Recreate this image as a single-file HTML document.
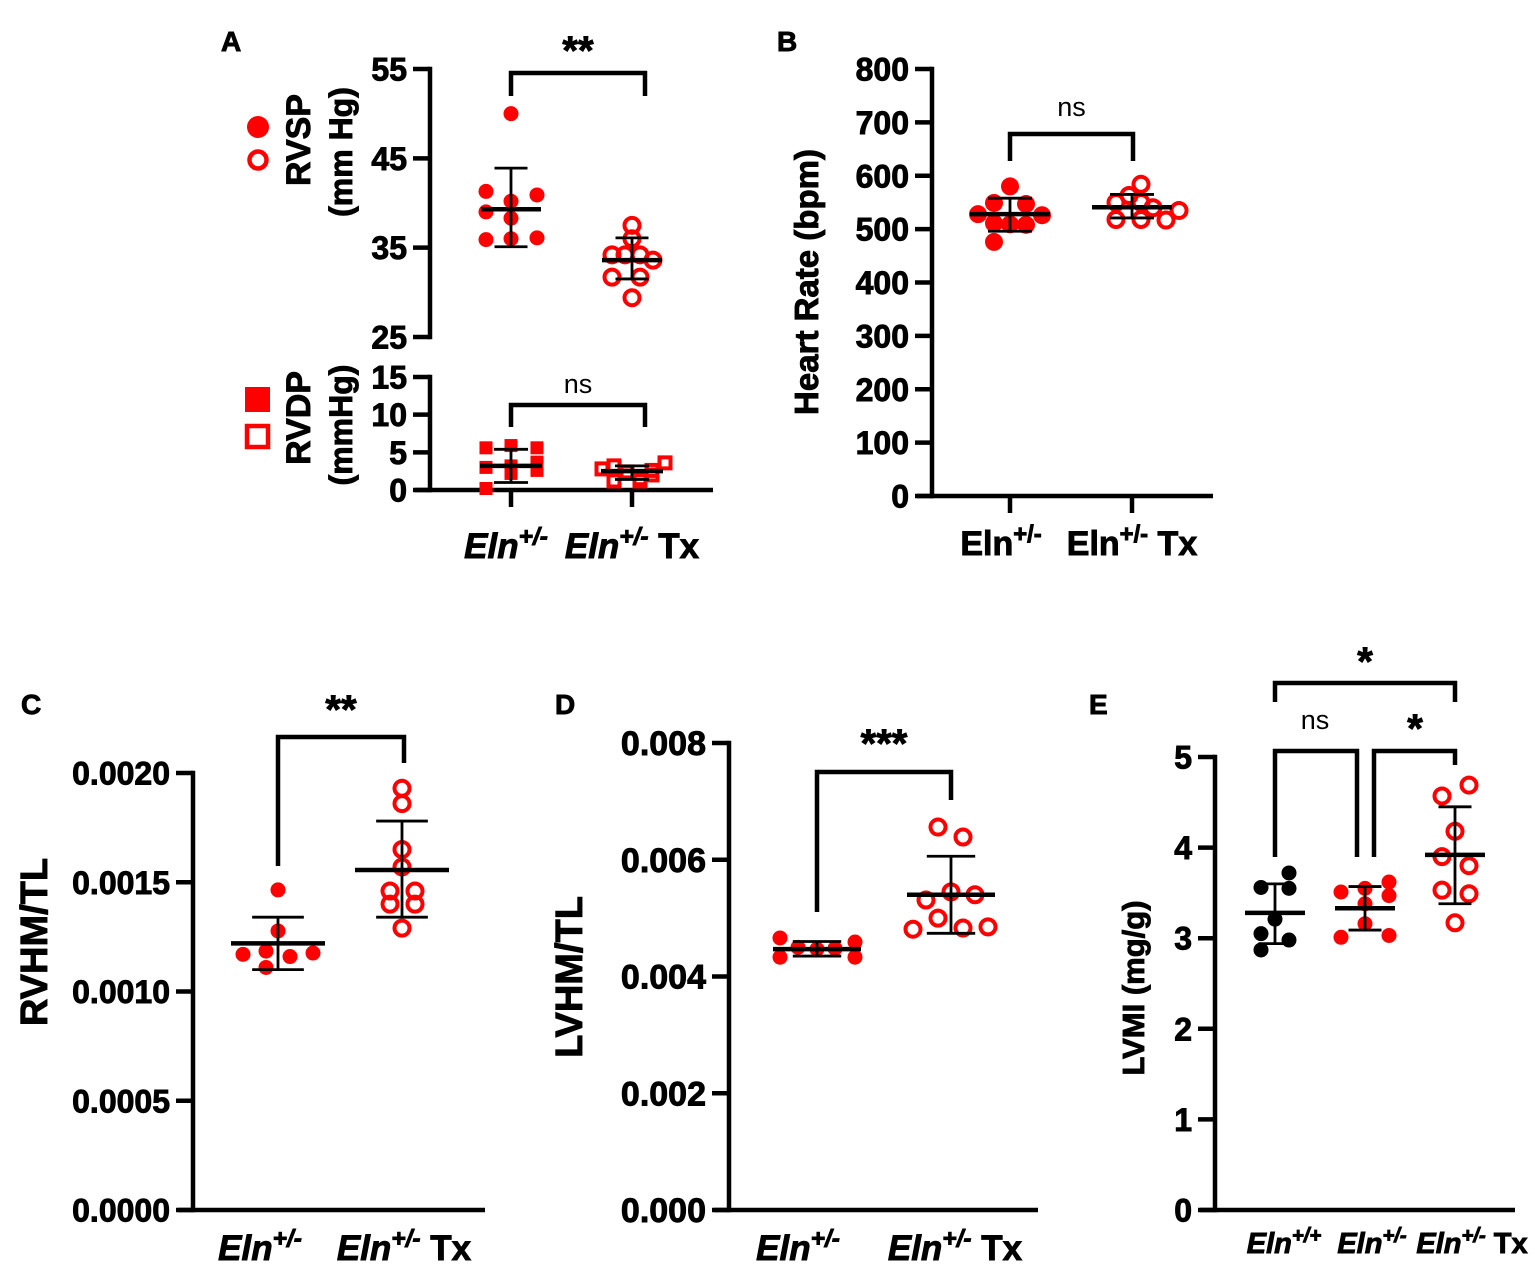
<!DOCTYPE html>
<html><head><meta charset="utf-8"><style>
html,body{margin:0;padding:0;background:#fff;}
svg{display:block;font-family:"Liberation Sans",Arial,sans-serif;}
.hv{stroke:#000;stroke-width:0.9;}
</style></head><body>
<svg id="fig" width="1535" height="1274" viewBox="0 0 1535 1274" xmlns="http://www.w3.org/2000/svg">
<text class="hv" x="221" y="51" font-size="28" font-weight="bold">A</text>
<text class="hv" x="777" y="51" font-size="28" font-weight="bold">B</text>
<text class="hv" x="21" y="714" font-size="28" font-weight="bold">C</text>
<text class="hv" x="555" y="714" font-size="28" font-weight="bold">D</text>
<text class="hv" x="1089" y="714" font-size="28" font-weight="bold">E</text>

<circle cx="258" cy="127" r="11" fill="#f00"/>
<circle cx="258" cy="160" r="8.5" fill="none" stroke="#f00" stroke-width="4.5"/>
<rect x="245" y="387" width="25" height="25" fill="#f00"/>
<rect x="247" y="426" width="21" height="21" fill="none" stroke="#f00" stroke-width="4.5"/>
<text class="hv" transform="translate(310,140) rotate(-90)" text-anchor="middle" font-size="34" font-weight="bold">RVSP</text>
<text class="hv" transform="translate(352,152) rotate(-90)" text-anchor="middle" font-size="32" font-weight="bold">(mm Hg)</text>
<text class="hv" transform="translate(310,418) rotate(-90)" text-anchor="middle" font-size="34" font-weight="bold">RVDP</text>
<text class="hv" transform="translate(352,425) rotate(-90)" text-anchor="middle" font-size="32" font-weight="bold">(mmHg)</text>
<text class="hv" transform="translate(818,282) rotate(-90)" text-anchor="middle" font-size="33" font-weight="bold">Heart Rate (bpm)</text>
<text class="hv" transform="translate(47,942) rotate(-90)" text-anchor="middle" font-size="38" font-weight="bold">RVHM/TL</text>
<text class="hv" transform="translate(582,977) rotate(-90)" text-anchor="middle" font-size="38" font-weight="bold">LVHM/TL</text>
<text class="hv" transform="translate(1144,988) rotate(-90)" text-anchor="middle" font-size="31" font-weight="bold">LVMI (mg/g)</text>
<g id="plots"></g>
</svg>
<script>
// ---- data ----
const rvspEln = [50, 41.3, 40.9, 40.2, 39, 38.3, 35.9, 36, 36.1];
const rvspTx = [37.5, 36, 34.2, 34.2, 34.2, 33.6, 31.7, 31.7, 29.4];
const rvspStats = [[39.3, 43.9, 35.1], [33.6, 36.1, 31.5]];
const rvdpEln = [5.6, 5.9, 5.6, 3.0, 3.2, 3.7, 2.2, 2.6, 0.2];
const rvdpTx = [2.8, 1.2, 2.4, 1.2, 2.6, 3.6, 3.2, 1.5, 2.0];
const rvdpStats = [[3.2, 5.4, 1.0], [2.5, 3.2, 1.4]];
const hrEln = [580, 549, 547, 528, 526, 511, 509, 508, 476];
const hrTx = [584, 563, 550, 550, 540, 535, 518, 518, 517];
const hrStats = [[528, 558, 496], [541, 565, 521]];
const rvhmEln = [0.001465, 0.001277, 0.00117, 0.001185, 0.00116, 0.001176, 0.00111];
const rvhmTx = [0.00193, 0.00186, 0.00165, 0.00157, 0.00146, 0.00146, 0.0014, 0.0014, 0.00129];
const rvhmStats = [[0.00122, 0.00134, 0.0011], [0.001556, 0.00178, 0.00134]];
const lvhmEln = [0.00466, 0.00459, 0.0045, 0.00447, 0.00448, 0.00433, 0.00433];
const lvhmTx = [0.00656, 0.00639, 0.00545, 0.0054, 0.00531, 0.005, 0.00481, 0.00483, 0.00485];
const lvhmStats = [[0.00447, 0.0046, 0.00435], [0.0054, 0.00606, 0.00474]];
const lvmiWT = [3.72, 3.56, 3.55, 3.21, 3.05, 2.98, 2.87];
const lvmiEln = [3.62, 3.55, 3.51, 3.47, 3.38, 3.16, 3.01, 3.03];
const lvmiTx = [4.69, 4.57, 4.18, 3.9, 3.8, 3.53, 3.49, 3.17];
const lvmiStats = [[3.28, 3.6, 2.94], [3.33, 3.57, 3.09], [3.92, 4.45, 3.38]];
const ticksRVSP = ["25", "35", "45", "55"];
const ticksRVDP = ["0", "5", "10", "15"];
const ticksHR = ["0","100","200","300","400","500","600","700","800"];
const ticksRVHM = ["0.0000","0.0005","0.0010","0.0015","0.0020"];
const ticksLVHM = ["0.000","0.002","0.004","0.006","0.008"];
const ticksLVMI = ["0","1","2","3","4","5"];
// horizontal jitter (layout only)
const jA1=[0,-25,26,0,-25,0,-25,0,26], jA2=[0,0,-20,-7,8,21,-20,8,0];
const jA3=[-25,0,26,-25,0,26,0,26,-25], jA4=[-30,-18,-5,8,20,33,-18,8,20];
const jB1=[0,-16,16,-32,32,-16,0,16,-16], jB2=[9,-3,-16,9,21,47,-16,9,34];
const jC1=[0,0,-35,-12,12,35,-12], jC2=[0,0,0,0,-12,13,-12,13,0];
const jD1=[-37,38,-19,0,18,-37,38], jD2=[-13,12,0,24,-25,-13,-38,12,37];
const jE1=[14,-14,14,0,-14,14,-14], jE2=[24,0,-24,24,0,0,-24,24], jE3=[14,-13,0,-13,14,-13,14,0];

const NS="http://www.w3.org/2000/svg";
const root=document.getElementById('plots');
function el(tag,attrs,parent){const e=document.createElementNS(NS,tag);for(const k in attrs)e.setAttribute(k,attrs[k]);(parent||root).appendChild(e);return e;}
function scale(v0,v1,p0,p1){return v=>p0+(v-v0)*(p1-p0)/(v1-v0);}

function yAxis(ax,ys,ticks,vals,name,fs){
  const l=el('line',{x1:ax,y1:ys(vals[0]),x2:ax,y2:ys(vals[vals.length-1]),stroke:'#000','stroke-width':4.5,'stroke-linecap':'square'});
  
  
  ticks.forEach((t,i)=>{
    const y=ys(vals[i]);
    const tk=el('line',{x1:ax-17,y1:y,x2:ax,y2:y,stroke:'#000','stroke-width':4.5});
    
    
    const tx=el('text',{x:ax-23,y:y+fs*0.36,'text-anchor':'end','font-size':fs,'font-weight':'bold','class':'hv'});
    tx.textContent=t;
    
    
  });
}
function xAxis(ax,y,xend,name,cats){
  const l=el('line',{x1:ax-15,y1:y,x2:xend,y2:y,stroke:'#000','stroke-width':4.5});
  
  
  (cats||[]).forEach(cx=>{
    const t=el('line',{x1:cx,y1:y,x2:cx,y2:y+17,stroke:'#000','stroke-width':4.5});
    
    
  });
}
function group(cx,vals,jit,ys,shape,r,color,stats,mw,name){
  vals.forEach((v,i)=>{
    const x=cx+jit[i], y=ys(v); let m;
    if(shape==='fc') m=el('circle',{cx:x,cy:y,r:r,fill:color});
    else if(shape==='oc') m=el('circle',{cx:x,cy:y,r:r,fill:'none',stroke:color,'stroke-width':4});
    else if(shape==='fs') m=el('rect',{x:x-r,y:y-r,width:2*r,height:2*r,fill:color});
    else m=el('rect',{x:x-r+2,y:y-r+2,width:2*r-4,height:2*r-4,fill:'none',stroke:color,'stroke-width':4});
    
    
  });
  const [mean,hi,lo]=stats;
  const e=el('path',{d:`M${cx},${ys(hi)}V${ys(lo)}M${cx-mw*0.55},${ys(hi)}H${cx+mw*0.55}M${cx-mw*0.55},${ys(lo)}H${cx+mw*0.55}`,stroke:'#000','stroke-width':2.8,fill:'none'});
  
  
  const m=el('line',{x1:cx-mw,y1:ys(mean),x2:cx+mw,y2:ys(mean),stroke:'#000','stroke-width':4.5});
  
  
}
function bracket(x1,x2,y,y1,y2,label,ly,lsize,name,lx){
  const b=el('path',{d:`M${x1},${y1}V${y}H${x2}V${y2}`,fill:'none',stroke:'#000','stroke-width':4.5});
  
  
  const t=el('text',{x:lx||(x1+x2)/2,y:ly,'text-anchor':'middle','font-size':lsize,'font-weight':label==='ns'?'normal':'bold'});
  if(label!=='ns') t.setAttribute('class','hv');
  t.textContent=label;
  
  
}
function xlabel(cx,y,main,sup,tx,italic,fs,name){
  const t=el('text',{x:cx,y:y,'text-anchor':'middle','font-size':fs,'font-weight':'bold','class':'hv'});
  const a=el('tspan',{'font-style':italic?'italic':'normal'},t);a.textContent=main;
  const b=el('tspan',{dy:-fs*0.38,'font-size':fs*0.7,'font-style':italic?'italic':'normal'},t);b.textContent=sup;
  if(tx){const c=el('tspan',{dy:fs*0.38},t);c.textContent=tx;}
  
  
}

// Panel A top
const yA=scale(25,55,337,69);
yAxis(430,yA,ticksRVSP,ticksRVSP.map(Number),'rvsp',32);
group(511,rvspEln,jA1,yA,'fc',7.5,'#f00',rvspStats[0],30,'rvsp-eln');
group(632,rvspTx,jA2,yA,'oc',7.5,'#f00',rvspStats[1],30,'rvsp-tx');
bracket(511,645,73,96,96,'**',64,40,'rvsp');
// Panel A bottom
const yA2=scale(0,15,490,377);
yAxis(430,yA2,ticksRVDP,ticksRVDP.map(Number),'rvdp',32);
xAxis(430,490,713,'rvdp',[511,632]);
group(511,rvdpEln,jA3,yA2,'fs',6.5,'#f00',rvdpStats[0],31,'rvdp-eln');
group(632,rvdpTx,jA4,yA2,'os',7.5,'#f00',rvdpStats[1],31,'rvdp-tx');
bracket(511,645,405,427,427,'ns',393,27,'rvdp');
xlabel(506,558,'Eln','+/-','',true,35,'a-x-label-eln');
xlabel(632,558,'Eln','+/-',' Tx',true,35,'a-x-label-tx');

// Panel B
const yB=scale(0,800,496,69);
yAxis(932,yB,ticksHR,ticksHR.map(Number),'hr',32);
xAxis(932,496,1213,'hr',[1010,1132]);
group(1010,hrEln,jB1,yB,'fc',9,'#f00',hrStats[0],40,'hr-eln');
group(1132,hrTx,jB2,yB,'oc',7.5,'#f00',hrStats[1],40,'hr-tx');
bracket(1010,1133,134,161,161,'ns',116,27,'hr');
xlabel(1001,555,'Eln','+/-','',false,34,'b-x-label-eln');
xlabel(1132,555,'Eln','+/-','  Tx',false,34,'b-x-label-tx');

// Panel C
const yC=scale(0,0.002,1210,773);
yAxis(193,yC,ticksRVHM,ticksRVHM.map(Number),'rvhm',32);
xAxis(193,1210,485,'rvhm');
group(278,rvhmEln,jC1,yC,'fc',7.5,'#f00',rvhmStats[0],47,'rvhm-eln');
group(402,rvhmTx,jC2,yC,'oc',7.5,'#f00',rvhmStats[1],47,'rvhm-tx');
bracket(278,404,737,866,763,'**',723,40,'rvhm',341);
xlabel(260,1260,'Eln','+/-','',true,35,'c-x-label-eln');
xlabel(404,1260,'Eln','+/-',' Tx',true,35,'c-x-label-tx');

// Panel D
const yD=scale(0,0.008,1210,743);
yAxis(729,yD,ticksLVHM,ticksLVHM.map(Number),'lvhm',34);
xAxis(729,1210,1038,'lvhm');
group(817,lvhmEln,jD1,yD,'fc',7.5,'#f00',lvhmStats[0],44,'lvhm-eln');
group(951,lvhmTx,jD2,yD,'oc',7.5,'#f00',lvhmStats[1],44,'lvhm-tx');
bracket(817,951,772,912,800,'***',757,40,'lvhm',884);
xlabel(798,1260,'Eln','+/-','',true,35,'d-x-label-eln');
xlabel(955,1260,'Eln','+/-',' Tx',true,35,'d-x-label-tx');

// Panel E
const yE=scale(0,5,1210,757);
yAxis(1215,yE,ticksLVMI,ticksLVMI.map(Number),'lvmi',32);
xAxis(1215,1210,1515,'lvmi');
group(1275,lvmiWT,jE1,yE,'fc',7.5,'#000',lvmiStats[0],30,'lvmi-wt');
group(1365,lvmiEln,jE2,yE,'fc',7.5,'#f00',lvmiStats[1],30,'lvmi-eln');
group(1455,lvmiTx,jE3,yE,'oc',7.5,'#f00',lvmiStats[2],30,'lvmi-tx');
bracket(1275,1455,683,702,702,'*',675,40,'lvmi-wt-vs-tx',1365);
bracket(1275,1357,751,857,857,'ns',729,27,'lvmi-wt-vs-eln',1315);
bracket(1374,1455,751,857,765,'*',742,40,'lvmi-eln-vs-tx',1415);
xlabel(1284,1253,'Eln','+/+','',true,29,'e-x-label-wt');
xlabel(1372,1253,'Eln','+/-','',true,29,'e-x-label-eln');
xlabel(1472,1253,'Eln','+/-',' Tx',true,29,'e-x-label-tx');
</script>
</body></html>
